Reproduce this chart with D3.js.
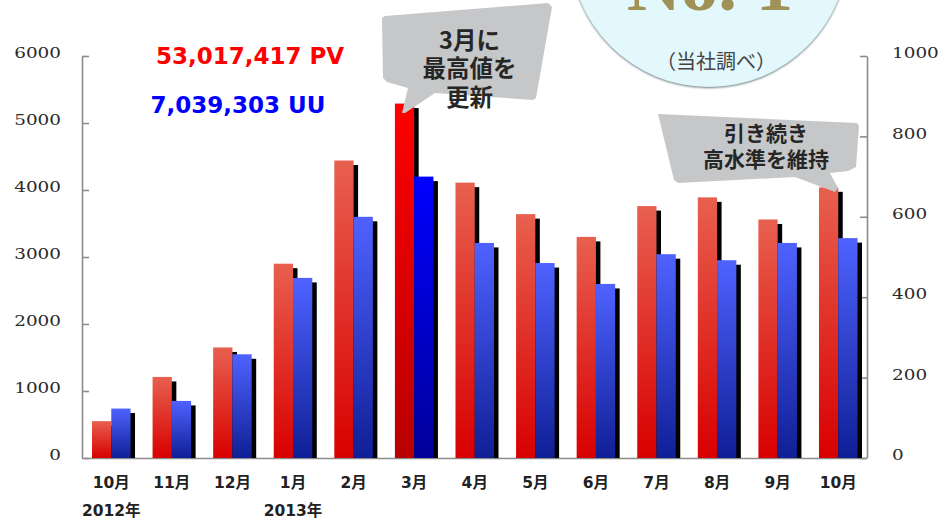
<!DOCTYPE html>
<html>
<head>
<meta charset="utf-8">
<script src="https://cdn.jsdelivr.net/npm/d3@7"></script>
<style>
  html, body { margin: 0; padding: 0; background: #fff; }
  svg { display: block; }
</style>
</head>
<body>
<div id="chart"></div>
<script>
const months = ["10月", "11月", "12月", "1月", "2月", "3月", "4月", "5月", "6月", "7月", "8月", "9月", "10月"];
const monthIds = ["2012-10", "2012-11", "2012-12", "2013-01", "2013-02", "2013-03", "2013-04", "2013-05", "2013-06", "2013-07", "2013-08", "2013-09", "2013-10"];
const pv = [550, 1210, 1650, 2900, 4440, 5290, 4110, 3640, 3300, 3760, 3890, 3560, 4040];
const uu = [123, 142, 258, 448, 600, 700, 535, 485, 433, 507, 492, 535, 547];
const pvTicks = [0, 1000, 2000, 3000, 4000, 5000, 6000];
const uuTicks = [0, 200, 400, 600, 800, 1000];
const highlight = "2013-03";
const years = [["2012-10", "2012年"], ["2013-01", "2013年"]];

const margin = { top: 56, right: 73, bottom: 62, left: 82 };
const width = 940 - margin.left - margin.right;
const height = 520 - margin.top - margin.bottom;

const svg = d3.select("#chart").append("svg")
    .attr("width", 940)
    .attr("height", 520);

// グラデーション
const defs = svg.append("defs");
function addGrad(id, top, bottom) {
    const g = defs.append("linearGradient").attr("id", id)
        .attr("x1", 0).attr("x2", 0).attr("y1", 0).attr("y2", 1);
    g.append("stop").attr("offset", "0%").attr("stop-color", top);
    g.append("stop").attr("offset", "100%").attr("stop-color", bottom);
}
addGrad("redBar", "#e8604f", "#d80000");
addGrad("blueBar", "#4f62ff", "#0f1f96");
addGrad("redTop", "#ff0000", "#b80000");
addGrad("blueTop", "#0000ff", "#00009a");

const blur = defs.append("filter").attr("id", "circleShadow")
    .attr("x", "-10%").attr("y", "-10%").attr("width", "120%").attr("height", "120%");
blur.append("feDropShadow").attr("dx", 0).attr("dy", 1).attr("stdDeviation", 1.2).attr("flood-color", "#5f7378");

const g = svg.append("g").attr("transform", `translate(${margin.left},${margin.top})`);

const x = d3.scaleBand().domain(monthIds).range([2, 783.5]).paddingInner(0.364).paddingOuter(0.132);
const yLeft = d3.scaleLinear().domain([0, 6000]).range([height, 0]);
const yRight = d3.scaleLinear().domain([0, 1000]).range([height, 0]);
const inner = d3.scaleBand().domain(["pv", "uu"]).range([0, x.bandwidth()]);

// 軸
const axisLeft = d3.axisLeft(yLeft).tickValues(pvTicks).tickSizeInner(-7).tickSizeOuter(0).tickPadding(21).tickFormat(d3.format("d"));
const axisRight = d3.axisRight(yRight).tickValues(uuTicks).tickSizeInner(-7).tickSizeOuter(0).tickPadding(25).tickFormat(d3.format("d"));
const axisBottom = d3.axisBottom(x).tickSize(0).tickFormat("");

function styleAxis(sel) {
    sel.selectAll("path, line").attr("stroke", "#8c8c8c").attr("stroke-width", 1.6);
    sel.selectAll("text")
        .attr("font-family", "'DejaVu Serif', serif")
        .attr("font-size", 14.5)
        .attr("fill", "#2a2a2a")
        .attr("dy", "0.12em")
        // 元の画像は数字が横長
        .attr("textLength", function () { return this.textContent.length * 11.7; })
        .attr("lengthAdjust", "spacingAndGlyphs");
}
g.append("g").call(axisLeft).call(styleAxis);
g.append("g").attr("transform", `translate(${width},0)`).call(axisRight).call(styleAxis);
g.append("g").attr("transform", `translate(0,${height})`).call(axisBottom).call(styleAxis);

// 棒
const rows = monthIds.map((id, i) => ({ id, month: months[i], pv: pv[i], uu: uu[i] }));
const groups = g.selectAll(".month").data(rows).enter().append("g")
    .attr("class", "month")
    .attr("transform", d => `translate(${x(d.id)},0)`);

// 黒い影
groups.append("rect")
    .attr("x", inner("pv") + 4.5)
    .attr("y", d => yLeft(d.pv) + 4.5)
    .attr("width", inner.bandwidth())
    .attr("height", d => height - yLeft(d.pv) - 4.5)
    .attr("fill", "#000");
groups.append("rect")
    .attr("x", inner("uu") + 4.5)
    .attr("y", d => yRight(d.uu) + 4.5)
    .attr("width", inner.bandwidth())
    .attr("height", d => height - yRight(d.uu) - 4.5)
    .attr("fill", "#000");

groups.append("rect")
    .attr("x", inner("pv"))
    .attr("y", d => yLeft(d.pv))
    .attr("width", inner.bandwidth())
    .attr("height", d => height - yLeft(d.pv))
    .attr("fill", d => d.id === highlight ? "url(#redTop)" : "url(#redBar)");
groups.append("rect")
    .attr("x", inner("uu"))
    .attr("y", d => yRight(d.uu))
    .attr("width", inner.bandwidth())
    .attr("height", d => height - yRight(d.uu))
    .attr("fill", d => d.id === highlight ? "url(#blueTop)" : "url(#blueBar)");

// 月ラベル
const jp = "'Noto Sans CJK JP', sans-serif";
const labelFont = "'DejaVu Sans', 'Noto Sans CJK JP', sans-serif";
g.selectAll(".mlabel").data(rows).enter().append("text")
    .attr("x", d => x(d.id) + x.bandwidth() / 2)
    .attr("y", height + 30)
    .attr("text-anchor", "middle")
    .attr("font-family", labelFont)
    .attr("font-weight", 700)
    .attr("font-size", 15.5)
    .attr("fill", "#222")
    .text(d => d.month);

g.selectAll(".ylabel").data(years).enter().append("text")
    .attr("x", d => x(d[0]) + x.bandwidth() / 2)
    .attr("y", height + 58)
    .attr("text-anchor", "middle")
    .attr("font-family", labelFont)
    .attr("font-weight", 700)
    .attr("font-size", 15.5)
    .attr("fill", "#222")
    .text(d => d[1]);

// 合計
svg.append("text").attr("x", 250).attr("y", 64).attr("text-anchor", "middle")
    .attr("font-family", "'DejaVu Sans', sans-serif").attr("font-weight", 700).attr("font-size", 23)
    .attr("fill", "#ff0000").text("53,017,417 PV");
svg.append("text").attr("x", 238).attr("y", 113).attr("text-anchor", "middle")
    .attr("font-family", "'DejaVu Sans', sans-serif").attr("font-weight", 700).attr("font-size", 23)
    .attr("fill", "#0000ff").text("7,039,303 UU");

// 円のバッジ
svg.append("circle").attr("cx", 709).attr("cy", -52).attr("r", 139)
    .attr("fill", "#e3f8fc").attr("filter", "url(#circleShadow)");
svg.append("text").attr("x", 710).attr("y", 10).attr("text-anchor", "middle")
    .attr("font-family", "'Liberation Serif', serif").attr("font-weight", 700).attr("font-size", 75)
    .attr("fill", "#a09256").text("No. 1");
svg.append("text").attr("x", 716).attr("y", 69).attr("text-anchor", "middle")
    .attr("font-family", jp).attr("font-size", 20)
    .attr("fill", "#444").text("（当社調べ）");

// 吹き出し
const line = d3.line().curve(d3.curveLinear);
svg.append("path")
    .attr("d", line([[382, 18], [385, 16], [548, 3], [552, 7], [536, 98], [533, 100], [435, 93], [405, 113], [402, 113], [408, 88], [387, 82], [383, 78]]) + "Z")
    .attr("fill", "#c6c7c9");
svg.append("path")
    .attr("d", line([[658, 114], [857, 123], [859, 126], [856, 167], [848, 171], [830, 173], [838, 188], [835, 192], [795, 177], [678, 183], [674, 180]]) + "Z")
    .attr("fill", "#c6c7c9");

function callout(lines, cx, startY, step, size) {
    svg.append("g").selectAll("text").data(lines).enter().append("text")
        .attr("x", cx)
        .attr("y", (d, i) => startY + i * step)
        .attr("text-anchor", "middle")
        .attr("font-family", jp)
        .attr("font-weight", 700)
        .attr("font-size", size)
        .attr("fill", "#262626")
        .text(d => d);
}
callout(["3月に", "最高値を", "更新"], 469.5, 48.5, 28.5, 23.5);
callout(["引き続き", "高水準を維持"], 766, 140.5, 26.5, 21);
</script>
</body>
</html>
